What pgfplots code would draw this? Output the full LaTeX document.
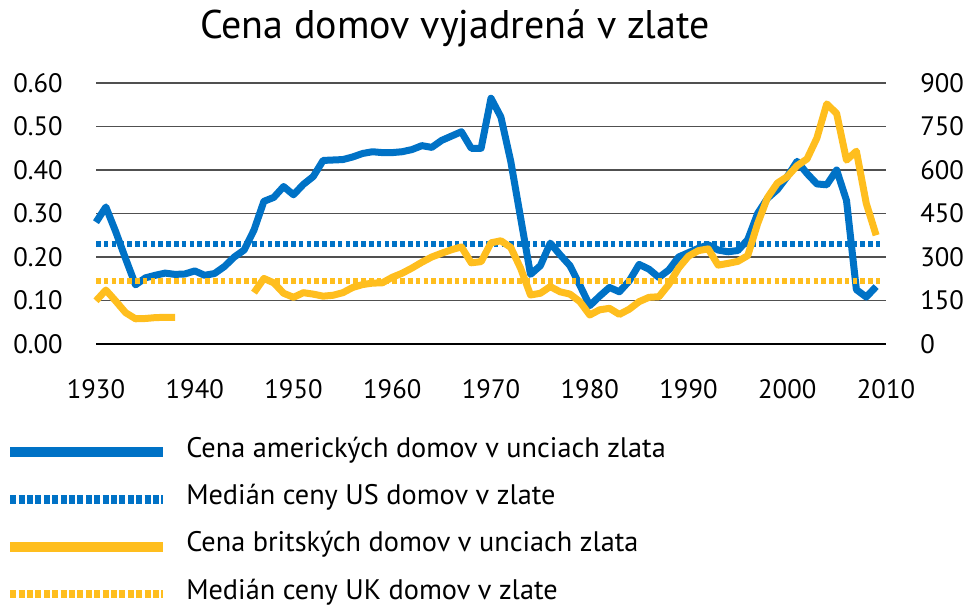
\documentclass[border=0pt]{standalone}
\usepackage{pgfplots}
\pgfplotsset{compat=1.18}
\usepackage{fontspec}
\setmainfont{PT Sans}
\definecolor{usblue}{RGB}{0,114,198}
\definecolor{ukgold}{RGB}{255,190,30}
\definecolor{gridgray}{RGB}{80,80,80}

\pgfplotstableread{
year value
1930 0.280
1931 0.315
1932 0.258
1933 0.196
1934 0.136
1935 0.152
1936 0.158
1937 0.163
1938 0.160
1939 0.161
1940 0.168
1941 0.158
1942 0.162
1943 0.178
1944 0.200
1945 0.216
1946 0.262
1947 0.328
1948 0.337
1949 0.362
1950 0.343
1951 0.367
1952 0.385
1953 0.422
1954 0.423
1955 0.424
1956 0.430
1957 0.438
1958 0.442
1959 0.440
1960 0.440
1961 0.442
1962 0.447
1963 0.456
1964 0.452
1965 0.468
1966 0.478
1967 0.488
1968 0.450
1969 0.450
1970 0.565
1971 0.522
1972 0.420
1973 0.290
1974 0.160
1975 0.180
1976 0.232
1977 0.205
1978 0.180
1979 0.135
1980 0.088
1981 0.110
1982 0.130
1983 0.120
1984 0.145
1985 0.183
1986 0.172
1987 0.153
1988 0.170
1989 0.200
1990 0.210
1991 0.220
1992 0.228
1993 0.216
1994 0.212
1995 0.215
1996 0.240
1997 0.300
1998 0.335
1999 0.355
2000 0.385
2001 0.420
2002 0.392
2003 0.368
2004 0.366
2005 0.400
2006 0.330
2007 0.125
2008 0.108
2009 0.132
}\ustable

\pgfplotstableread{
year value
1930 149
1931 186
1932 148
1933 108
1934 87
1935 88
1936 91
1937 92
1938 92
}\ukprewar

\pgfplotstableread{
year value
1946 177
1947 226
1948 211
1949 175
1950 161
1951 177
1952 172
1953 165
1954 168
1955 177
1956 195
1957 205
1958 210
1959 211
1960 230
1961 244
1962 262
1963 282
1964 300
1965 313
1966 325
1967 335
1968 280
1969 284
1970 349
1971 356
1972 333
1973 261
1974 169
1975 175
1976 198
1977 180
1978 172
1979 146
1980 100
1981 118
1982 123
1983 102
1984 120
1985 146
1986 161
1987 163
1988 205
1989 262
1990 303
1991 322
1992 328
1993 272
1994 278
1995 285
1996 305
1997 415
1998 505
1999 555
2000 577
2001 615
2002 638
2003 710
2004 828
2005 795
2006 634
2007 665
2008 485
2009 375
}\ukpostwar

\begin{document}
\begin{tikzpicture}
\useasboundingbox (-72pt,-201pt) rectangle (650.25pt,258pt);
\pgfplotsset{
  common/.style={
    scale only axis, width=592.5pt, height=195.75pt,
    at={(0,0)}, anchor=south west,
    xmin=1930, xmax=2010,
    axis line style={draw=none},
    major tick length=0pt,
    tick style={draw=none},
    ticklabel style={font=\fontsize{20}{24}\selectfont, inner sep=0pt},
    /pgf/number format/assume math mode=true,
    clip=false,
  },
}
\begin{axis}[common,
  ymin=0, ymax=0.6,
  ytick={0.1,0.2,0.3,0.4,0.5,0.6},
  yticklabel style={anchor=east, /pgf/number format/.cd, fixed, fixed zerofill, precision=2},
  yticklabel shift=24.75pt,
  extra y ticks={0},
  extra y tick labels={0.00},
  extra y tick style={grid style={black, line width=2.2pt}},
  ymajorgrids=true,
  grid style={gridgray, line width=1.3pt},
  xtick={1930,1940,1950,1960,1970,1980,1990,2000,2010},
  xticklabel style={anchor=north, /pgf/number format/.cd, set thousands separator={}},
  xticklabel shift=26.5pt,
  title={Cena domov vyjadrená v zlate},
  title style={at={(0.4544,1.14)}, anchor=base, inner sep=0pt, font=\fontsize{30}{36}\selectfont},
]
\addplot[usblue, line width=4.9pt, dash pattern=on 3.5pt off 2.35pt, forget plot]
  coordinates {(1930,0.23) (2009.4,0.23)};
\addplot[usblue, line width=5.25pt, line join=round, forget plot]
  table[x=year, y=value] {\ustable};
\end{axis}

\begin{axis}[common,
  ymin=0, ymax=900,
  axis y line*=right,
  axis x line=none,
  ytick={0,150,300,450,600,750,900},
  yticklabel style={anchor=west},
  yticklabel shift=25.5pt,
  legend cell align=left,
  legend style={at={(-0.1152,-0.3716)}, anchor=north west, draw=none, fill=none,
    inner sep=0pt, row sep=19.5pt, column sep=13.5pt,
    nodes={inner sep=0pt, text height=12pt, text depth=4pt},
    font=\fontsize{21.2}{25}\selectfont},
]
\addplot[ukgold, line width=4.9pt, dash pattern=on 3.5pt off 2.35pt, forget plot]
  coordinates {(1930,217) (2009.4,217)};
\addplot[ukgold, line width=5.25pt, line join=round, forget plot]
  table[x=year, y=value] {\ukprewar};
\addplot[ukgold, line width=5.25pt, line join=round, forget plot]
  table[x=year, y=value] {\ukpostwar};

\addlegendimage{legend image code/.code={\draw[usblue, line width=7.5pt] (0pt,0pt) -- (114.75pt,0pt);}}
\addlegendentry{Cena amerických domov v unciach zlata}
\addlegendimage{legend image code/.code={\draw[usblue, line width=6.5pt, dash pattern=on 4.5pt off 1.8pt] (0pt,0pt) -- (114.75pt,0pt);}}
\addlegendentry{Medián ceny US domov v zlate}
\addlegendimage{legend image code/.code={\draw[ukgold, line width=7.5pt] (0pt,0pt) -- (114.75pt,0pt);}}
\addlegendentry{Cena britských domov v unciach zlata}
\addlegendimage{legend image code/.code={\draw[ukgold, line width=6.5pt, dash pattern=on 4.5pt off 1.8pt] (0pt,0pt) -- (114.75pt,0pt);}}
\addlegendentry{Medián ceny UK domov v zlate}
\end{axis}
\end{tikzpicture}
\end{document}
